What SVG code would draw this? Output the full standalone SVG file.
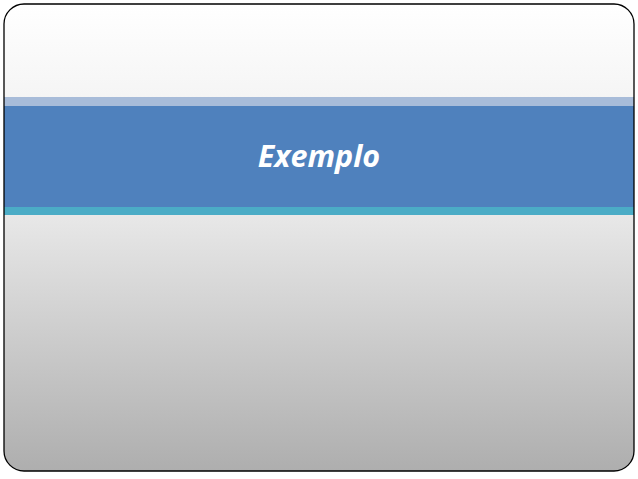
<svg xmlns="http://www.w3.org/2000/svg" width="638" height="479" viewBox="0 0 638 479">
<defs>
<linearGradient id="bg" x1="0" y1="0" x2="0" y2="1">
<stop offset="0" stop-color="#ffffff"/>
<stop offset="0.45" stop-color="#e8e8e8"/>
<stop offset="1" stop-color="#aeaeae"/>
</linearGradient>
<clipPath id="c"><rect x="4" y="4" width="630" height="467" rx="20"/></clipPath>
</defs>
<rect width="638" height="479" fill="#ffffff"/>
<g id="slide">
<g clip-path="url(#c)">
<rect x="4" y="4" width="630" height="467" fill="url(#bg)"/>
<rect x="4" y="97" width="630" height="9" fill="#a8bcd9"/>
<rect x="4" y="106" width="630" height="101" fill="#4f81bd"/>
<rect x="4" y="207" width="630" height="8" fill="#4bacc6"/>
</g>
<rect x="4" y="4" width="630" height="467" rx="20" fill="none" stroke="#000" stroke-width="1.3"/>
<text x="319" y="167" text-anchor="middle" font-family="Open Sans, Liberation Sans, sans-serif" font-style="italic" font-weight="bold" font-size="30.5" fill="#ffffff">Exemplo</text>
</g>
</svg>
